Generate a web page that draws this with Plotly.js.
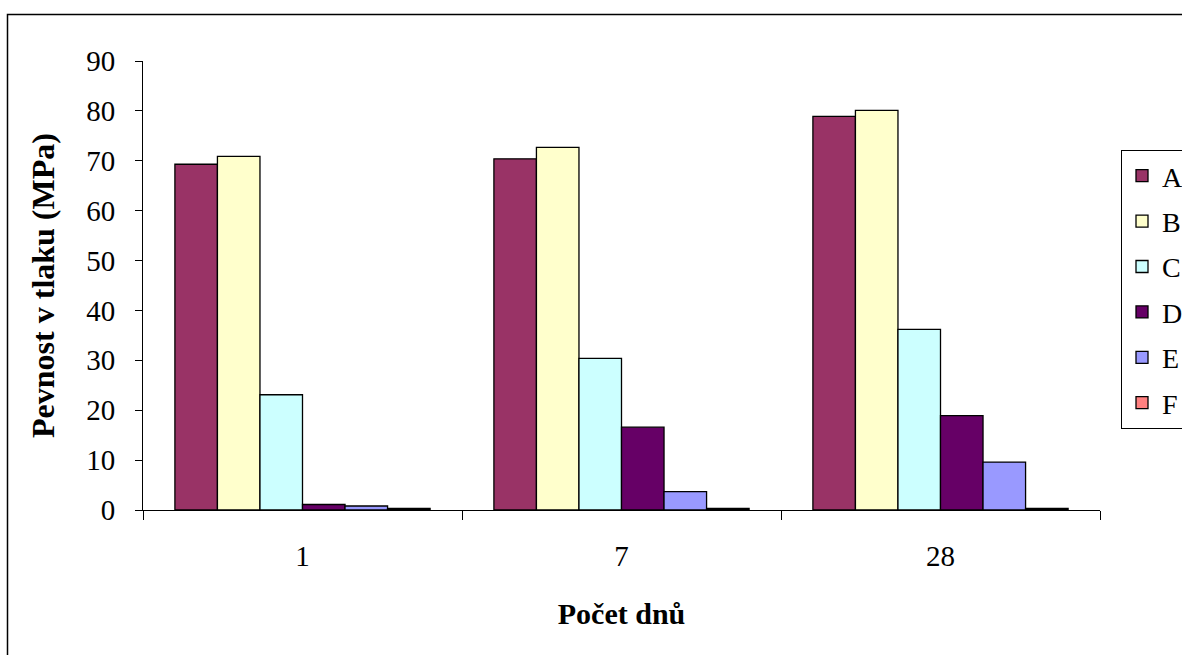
<!DOCTYPE html>
<html>
<head>
<meta charset="utf-8">
<script src="https://cdn.plot.ly/plotly-3.0.1.min.js"></script>
<style>
  html, body { margin: 0; padding: 0; background: #fff; }
  #chart { width: 1182px; height: 655px; }
</style>
</head>
<body>
<div id="chart"></div>
<script>
// Compressive strength (MPa) after 1, 7 and 28 days for mixes A–F
const days = ['1', '7', '28'];
const seriesNames = ['A', 'B', 'C', 'D', 'E', 'F'];
const valuesA = [69.3, 70.4, 78.9];
const valuesB = [70.9, 72.7, 80.1];
const valuesC = [23.1, 30.4, 36.2];
const valuesD = [1.1, 16.6, 18.9];
const valuesE = [0.8, 3.7, 9.6];
const valuesF = [0.3, 0.3, 0.3];
const seriesColors = ['#993366', '#FFFFCC', '#CCFFFF', '#660066', '#9999FF', '#FF8080'];

const allValues = [valuesA, valuesB, valuesC, valuesD, valuesE, valuesF];

const W = 1182, H = 655;
const margin = { l: 143, r: 82, t: 61, b: 145, autoexpand: false };
const plotW = W - margin.l - margin.r;
const plotH = H - margin.t - margin.b;

const serif = "'Liberation Serif', 'Times New Roman', 'DejaVu Serif', serif";

const traces = seriesNames.map((name, i) => ({
  type: 'bar',
  name: name,
  x: days,
  y: allValues[i],
  legendgroup: name,
  marker: { color: seriesColors[i], line: { color: '#000', width: 1.3 } },
  hoverinfo: 'x+y+name'
}));

const layout = {
  width: W,
  height: H,
  margin: margin,
  paper_bgcolor: '#fff',
  plot_bgcolor: '#fff',
  barmode: 'group',
  bargap: 0.2,
  bargroupgap: 0,
  font: { family: serif, color: '#000', size: 28 },
  xaxis: {
    type: 'category',
    tickson: 'boundaries',
    ticks: 'outside',
    ticklen: 9,
    tickcolor: '#000',
    tickwidth: 1,
    showline: true,
    linecolor: '#000',
    linewidth: 1,
    showgrid: false,
    zeroline: false,
    ticklabelstandoff: 20,
    tickfont: { family: serif, size: 29, color: '#000' },
    title: { text: 'Počet dnů', font: { family: serif, size: 30, color: '#000', weight: 'bold' }, standoff: 32 }
  },
  yaxis: {
    range: [0, 90],
    dtick: 10,
    ticks: 'outside',
    ticklen: 7,
    tickcolor: '#000',
    tickwidth: 1,
    showline: true,
    linecolor: '#000',
    linewidth: 1,
    showgrid: false,
    zeroline: false,
    ticklabelstandoff: 14,
    tickfont: { family: serif, size: 29, color: '#000' },
    title: { text: 'Pevnost v tlaku (MPa)', font: { family: serif, size: 32, color: '#000', weight: 'bold' }, standoff: 22 }
  },
  legend: {
    x: (1121 - margin.l) / plotW,
    xanchor: 'left',
    y: (510 - 150) / plotH,
    yanchor: 'top',
    bordercolor: '#000',
    borderwidth: 1,
    bgcolor: '#fff',
    traceorder: 'grouped',
    tracegroupgap: 6,
    font: { family: serif, size: 28, color: '#000' },
    itemwidth: 30
  },
  shapes: [{
    type: 'rect',
    xref: 'paper', yref: 'paper',
    x0: (7.5 - margin.l) / plotW,
    x1: (W + 20 - margin.l) / plotW,
    y0: -(margin.b + 20) / plotH,
    y1: (margin.t + plotH - 14.5) / plotH,
    line: { color: '#000', width: 1.5 },
    fillcolor: 'rgba(0,0,0,0)',
    layer: 'below'
  }]
};

Plotly.newPlot('chart', traces, layout, { displayModeBar: false, staticPlot: true });
</script>
</body>
</html>
